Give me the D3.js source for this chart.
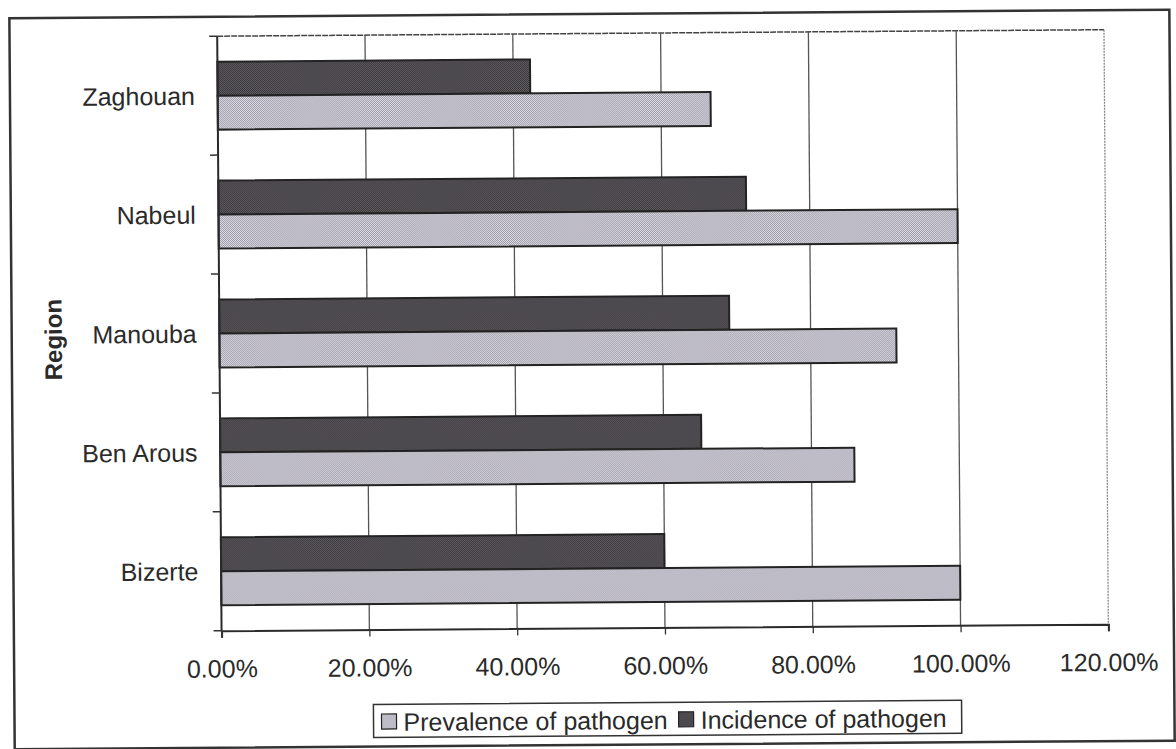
<!DOCTYPE html>
<html>
<head>
<meta charset="utf-8">
<script src="https://cdn.jsdelivr.net/npm/d3@7"></script>
<style>
  html, body { margin: 0; padding: 0; background: #fff; }
  svg { display: block; }
  text { font-family: "Liberation Sans", Arial, sans-serif; fill: #2a2a2a; }
</style>
</head>
<body>
<svg id="chart" width="1176" height="749"></svg>
<script>
// Pathogen prevalence and incidence by region
const regions = ["Zaghouan", "Nabeul", "Manouba", "Ben Arous", "Bizerte"];
const prevalence = [0.667, 1.0, 0.916, 0.858, 1.0];
const incidence = [0.423, 0.714, 0.690, 0.651, 0.600];
const xTickValues = [0, 0.2, 0.4, 0.6, 0.8, 1.0, 1.2];
const seriesNames = ["Prevalence of pathogen", "Incidence of pathogen"];
const axisTitle = "Region";

const plot = { left: 219.7, right: 1106.5, top: 33.5, bottom: 628 };
const FONT = 25;

const svg = d3.select("#chart");
const defs = svg.append("defs");

// Fine halftone fills for the two series
function halftone(id, base, dot) {
  const p = defs.append("pattern")
    .attr("id", id)
    .attr("patternUnits", "userSpaceOnUse")
    .attr("width", 2).attr("height", 2);
  p.append("rect").attr("width", 2).attr("height", 2).attr("fill", base);
  p.append("rect").attr("x", 0).attr("y", 0).attr("width", 1).attr("height", 1).attr("fill", dot);
  p.append("rect").attr("x", 1).attr("y", 1).attr("width", 1).attr("height", 1).attr("fill", dot);
}
halftone("fillPrev", "#e4dce0", "#979bab");
halftone("fillInc", "#6c666a", "#2e2e33");

const seriesFill = {
  [seriesNames[0]]: "url(#fillPrev)",
  [seriesNames[1]]: "url(#fillInc)"
};

const root = svg.append("g").attr("transform", "rotate(-0.42, 588, 375)");

// Outer chart frame
root.append("rect")
  .attr("x", 12).attr("y", 14)
  .attr("width", 1160).attr("height", 731)
  .attr("fill", "none")
  .attr("stroke", "#333")
  .attr("stroke-width", 2.5);

// Scales
const x = d3.scaleLinear().domain([0, 1.2]).range([plot.left, plot.right]);
const y = d3.scaleBand().domain(regions).range([plot.top, plot.bottom]).paddingInner(0).paddingOuter(0);
// Incidence sits above prevalence within each region
const ySub = d3.scaleBand()
  .domain([seriesNames[1], seriesNames[0]])
  .range([0, y.bandwidth()])
  .paddingInner(0)
  .paddingOuter(0.75);

// Plot area border (top and right)
root.append("line")
  .attr("x1", plot.left).attr("x2", plot.right)
  .attr("y1", plot.top).attr("y2", plot.top)
  .attr("stroke", "#444").attr("stroke-width", 1.5)
  .attr("stroke-dasharray", "6,1");
root.append("line")
  .attr("x1", plot.right).attr("x2", plot.right)
  .attr("y1", plot.top).attr("y2", plot.bottom)
  .attr("stroke", "#888").attr("stroke-width", 1.3)
  .attr("stroke-dasharray", "2,1");

// Vertical gridlines
root.append("g")
  .selectAll("line")
  .data(xTickValues.filter(v => v > 0 && v < 1.2))
  .join("line")
  .attr("x1", d => x(d)).attr("x2", d => x(d))
  .attr("y1", plot.top).attr("y2", plot.bottom)
  .attr("stroke", "#555")
  .attr("stroke-width", 1.3);

// Bars
const rows = regions.map((r, i) => ({
  region: r,
  values: [
    { series: seriesNames[1], value: incidence[i] },
    { series: seriesNames[0], value: prevalence[i] }
  ]
}));

root.append("g")
  .selectAll("g")
  .data(rows)
  .join("g")
  .attr("transform", d => `translate(0,${y(d.region)})`)
  .selectAll("rect")
  .data(d => d.values)
  .join("rect")
  .attr("x", x(0))
  .attr("y", d => ySub(d.series))
  .attr("width", d => x(d.value) - x(0))
  .attr("height", ySub.bandwidth())
  .attr("fill", d => seriesFill[d.series])
  .attr("stroke", "#232323")
  .attr("stroke-width", 2);

// X axis
const xAxis = d3.axisBottom(x)
  .tickValues(xTickValues)
  .tickFormat(d3.format(".2%"))
  .tickSize(7)
  .tickPadding(22);
const gx = root.append("g")
  .attr("transform", `translate(0,${plot.bottom})`)
  .call(xAxis);
gx.select(".domain").attr("stroke", "#2a2a2a").attr("stroke-width", 2);
gx.selectAll(".tick line").attr("stroke", "#333").attr("stroke-width", 1.3);
gx.selectAll(".tick text")
  .attr("font-size", FONT)
  .attr("fill", "#2a2a2a")
  .style("font-family", "'Liberation Sans', Arial, sans-serif");

// Y axis line, category boundary ticks and labels
root.append("line")
  .attr("x1", plot.left).attr("x2", plot.left)
  .attr("y1", plot.top).attr("y2", plot.bottom)
  .attr("stroke", "#2a2a2a").attr("stroke-width", 2);

const boundaries = regions.map(r => y(r)).concat([y.range()[1]]);
root.append("g")
  .selectAll("line")
  .data(boundaries)
  .join("line")
  .attr("x1", plot.left - 8).attr("x2", plot.left)
  .attr("y1", d => d).attr("y2", d => d)
  .attr("stroke", "#333").attr("stroke-width", 1.5);

root.append("g")
  .selectAll("text")
  .data(regions)
  .join("text")
  .attr("x", 197)
  .attr("y", d => y(d) + y.bandwidth() / 2)
  .attr("dy", "0.36em")
  .attr("text-anchor", "end")
  .attr("font-size", FONT)
  .text(d => d);

// Axis title
root.append("text")
  .attr("transform", `translate(62,${(plot.top + plot.bottom) / 2 + 5}) rotate(-90)`)
  .attr("text-anchor", "middle")
  .attr("font-size", 24)
  .attr("font-weight", "bold")
  .text(axisTitle);

// Legend
const legend = root.append("g");
const legBox = legend.append("rect")
  .attr("fill", "#fff")
  .attr("stroke", "#333")
  .attr("stroke-width", 1.5);
const legLeft = 371, legTop = 703, legH = 33;
let lx = 379;
const legY = legTop + legH / 2 + 1;
seriesNames.forEach(name => {
  legend.append("rect")
    .attr("x", lx).attr("y", legY - 8)
    .attr("width", 15).attr("height", 15)
    .attr("fill", seriesFill[name])
    .attr("stroke", "#222").attr("stroke-width", 1.2);
  const t = legend.append("text")
    .attr("x", lx + 22)
    .attr("y", legY)
    .attr("dy", "0.36em")
    .attr("font-size", FONT)
    .text(name);
  lx += 22 + t.node().getComputedTextLength() + 11;
});
legBox
  .attr("x", legLeft).attr("y", legTop)
  .attr("width", lx - legLeft + 4).attr("height", legH);
</script>
</body>
</html>
